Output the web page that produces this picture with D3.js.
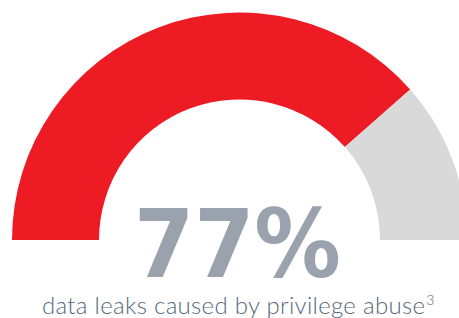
<!DOCTYPE html>
<html>
<head>
<meta charset="utf-8">
<script src="https://cdn.jsdelivr.net/npm/d3@7"></script>
<style>
  html, body { margin: 0; padding: 0; background: #fff; }
  svg { display: block; }
</style>
</head>
<body>
<svg id="chart" width="459" height="318"></svg>
<script>
// gauge data
var categories = ["privilege abuse", "other"];
var values = [77, 23];
var colors = ["#ed1c24", "#d9d9d9"];
var bigLabel = "77%";
var caption = "data leaks caused by privilege abuse";
var footnote = "3";

var svg = d3.select("#chart");
var cx = 239.5, cy = 240, outer = 227.5, inner = 140.5;

var angle = d3.scaleLinear()
    .domain([0, d3.sum(values)])
    .range([-Math.PI / 2, Math.PI / 2]);

var arc = d3.arc().innerRadius(inner).outerRadius(outer);

var slices = [];
var acc = 0;
values.forEach(function(v, i) {
    slices.push({ name: categories[i], start: acc, end: acc + v, color: colors[i] });
    acc += v;
});

var g = svg.append("g").attr("transform", "translate(" + cx + "," + cy + ")");
g.selectAll("path")
    .data(slices)
    .enter()
    .append("path")
    .attr("d", function(d) { return arc({ startAngle: angle(d.start), endAngle: angle(d.end) }); })
    .attr("fill", function(d) { return d.color; });

svg.append("text")
    .attr("x", 134)
    .attr("y", 277)
    .attr("textLength", 207)
    .attr("lengthAdjust", "spacingAndGlyphs")
    .style("font-family", "'DejaVu Sans', sans-serif")
    .style("font-weight", "bold")
    .style("font-size", "95px")
    .style("fill", "#9aa3ad")
    .text(bigLabel);

var cap = svg.append("text")
    .attr("x", 42)
    .attr("y", 314)
    .style("font-family", "Lato, 'Open Sans', sans-serif")
    .style("font-weight", "300")
    .style("font-size", "24px")
    .style("fill", "#56687a");
cap.append("tspan")
    .attr("textLength", 383)
    .attr("lengthAdjust", "spacing")
    .text(caption);
cap.append("tspan")
    .attr("dy", -9)
    .attr("dx", 1)
    .style("font-size", "14px")
    .text(footnote);
</script>
</body>
</html>
